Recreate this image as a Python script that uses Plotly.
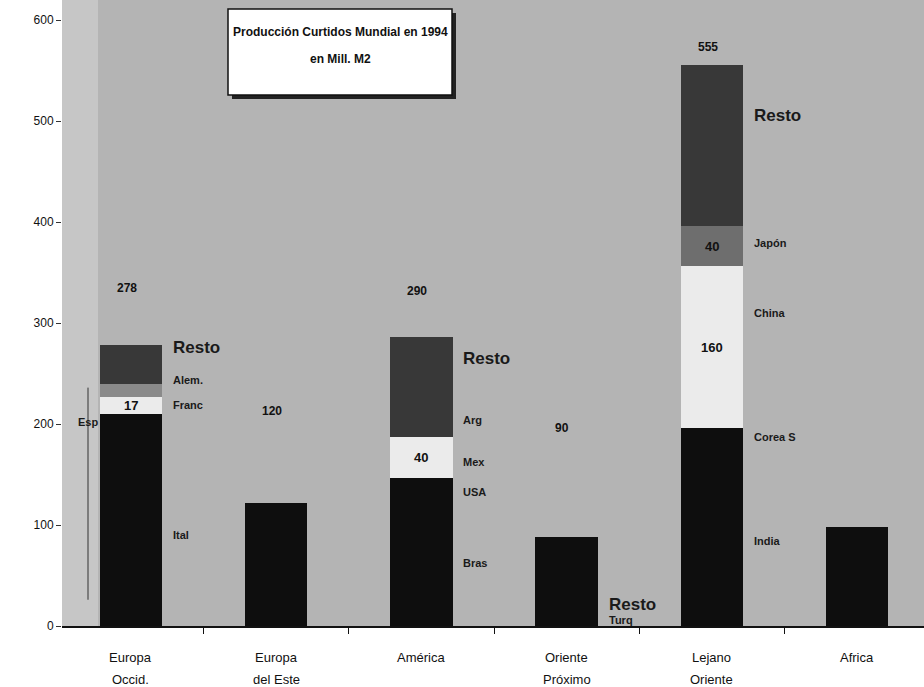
import plotly.graph_objects as go

# ---------------- data ----------------
categories = ["Europa<br>Occid.", "Europa<br>del Este", "América", "Oriente<br>Próximo", "Lejano<br>Oriente", "Africa"]

eu_occid_segments = ["Ital", "Esp", "Franc", "Alem.", "Resto"]
eu_occid_values = [178, 32, 17, 13, 38]
eu_este_segments = ["Total"]
eu_este_values = [122]
america_segments = ["Bras", "USA", "Mex", "Arg", "Resto"]
america_values = [115, 32, 40, 32, 67]
oriente_prox_segments = ["Turq", "Resto"]
oriente_prox_values = [45, 43]
lejano_segments = ["India", "Corea S", "China", "Japón", "Resto"]
lejano_values = [170, 26, 160, 40, 159]
africa_segments = ["Total"]
africa_values = [98]

total_labels = ["278", "120", "290", "90", "555", ""]
inner_value_segments = [(0, "Franc"), (2, "Mex"), (4, "China"), (4, "Japón")]
y_tick_values = [0, 100, 200, 300, 400, 500, 600]
title_lines = ["Producción Curtidos Mundial en 1994", "en Mill. M2"]

# ---------------- style ----------------
FONT = "Liberation Sans, Arial, sans-serif"
BLACK, WHITE, GRAY, DARK, LGRAY = "#0e0e0e", "#ebebeb", "#8a8a8a", "#383838", "#6e6e6e"
BG = "#b4b4b4"

segments = [eu_occid_segments, eu_este_segments, america_segments,
            oriente_prox_segments, lejano_segments, africa_segments]
values = [eu_occid_values, eu_este_values, america_values,
          oriente_prox_values, lejano_values, africa_values]
colors = [
    [BLACK, BLACK, WHITE, GRAY, DARK],
    [BLACK],
    [BLACK, BLACK, WHITE, DARK, DARK],
    [BLACK, BLACK],
    [BLACK, BLACK, WHITE, LGRAY, DARK],
    [BLACK],
]

# label placement (layout): (category index, segment) -> y position, size, side
side_label_pos = {
    (0, "Resto"): (276, 17, "r"), (0, "Alem."): (244, 11, "r"), (0, "Franc"): (219, 11, "r"),
    (0, "Ital"): (90, 11, "r"), (0, "Esp"): (202, 11, "l"),
    (2, "Resto"): (265, 17, "r"), (2, "Arg"): (204, 11, "r"), (2, "Mex"): (162, 11, "r"),
    (2, "USA"): (133, 11, "r"), (2, "Bras"): (62, 11, "r"),
    (3, "Resto"): (21, 17, "r"), (3, "Turq"): (6, 11, "r"),
    (4, "Resto"): (505, 17, "r"), (4, "Japón"): (379, 11, "r"), (4, "China"): (310, 11, "r"),
    (4, "Corea S"): (187, 11, "r"), (4, "India"): (84, 11, "r"),
}
total_label_y = [335, 213, 332, 196, 573, 0]

BAR_W = 0.43
X_RANGE = [-0.475, 5.46]
Y_MAX = 619.8

fig = go.Figure()
annotations = []
for i, (segs, vals, cols) in enumerate(zip(segments, values, colors)):
    base = 0
    for name, v, c in zip(segs, vals, cols):
        fig.add_trace(go.Bar(x=[i], y=[v], width=BAR_W, marker=dict(color=c, line=dict(width=0)),
                             name=name, showlegend=False, hoverinfo="skip"))
        if (i, name) in inner_value_segments:
            annotations.append(dict(x=i, y=base + v / 2, xref="x", yref="y", text=f"<b>{v}</b>",
                                    showarrow=False, font=dict(family=FONT, size=13, color="#111"),
                                    yanchor="middle", xanchor="center"))
        if (i, name) in side_label_pos:
            ly, sz, side = side_label_pos[(i, name)]
            if side == "r":
                annotations.append(dict(x=i + BAR_W / 2 + 0.06, y=ly, xref="x", yref="y",
                                        text=f"<b>{name}</b>", showarrow=False, xanchor="left",
                                        yanchor="middle", font=dict(family=FONT, size=sz, color="#1a1a1a")))
            else:
                annotations.append(dict(x=i - BAR_W / 2, y=ly, xref="x", yref="y",
                                        text=f"<b>{name}</b>", showarrow=False, xanchor="right",
                                        yanchor="middle", font=dict(family=FONT, size=sz, color="#1a1a1a")))
        base += v
    if total_labels[i]:
        annotations.append(dict(x=i - 0.03, y=total_label_y[i], xref="x", yref="y",
                                text=f"<b>{total_labels[i]}</b>", showarrow=False,
                                xanchor="center", yanchor="middle",
                                font=dict(family=FONT, size=12, color="#111")))

# category labels (two lines with wide spacing)
for i, cat in enumerate(categories):
    lines = cat.split("<br>")
    for k, line in enumerate(lines):
        annotations.append(dict(x=i, y=-0.05 - 0.035 * k, xref="x", yref="paper", text=line,
                                showarrow=False, yanchor="middle", xanchor="center",
                                font=dict(family=FONT, size=13, color="#111")))

# title box
PW, PH, L = 862, 626, 62
def px_x(p):
    return (p - L) / PW
def px_y(p):
    return (PH - p) / PH

shapes = [
    dict(type="rect", xref="paper", yref="paper", x0=px_x(62), x1=px_x(98), y0=0, y1=1,
         fillcolor="#d2d2d2", line=dict(width=0), layer="below", opacity=0.6),
    dict(type="line", xref="x", yref="y", x0=-0.296, x1=-0.296, y0=26, y1=236,
         line=dict(color="#333", width=1)),
    dict(type="rect", xref="paper", yref="paper", x0=px_x(232), x1=px_x(456),
         y0=px_y(99), y1=px_y(13), fillcolor="#222", line=dict(width=0)),
    dict(type="rect", xref="paper", yref="paper", x0=px_x(228), x1=px_x(452),
         y0=px_y(95), y1=px_y(9), fillcolor="white", line=dict(color="#111", width=1.5)),
]
annotations.append(dict(x=px_x(340), y=px_y(32), xref="paper", yref="paper", text=f"<b>{title_lines[0]}</b>",
                        showarrow=False, xanchor="center", yanchor="middle",
                        font=dict(family=FONT, size=12, color="#111")))
annotations.append(dict(x=px_x(340), y=px_y(59), xref="paper", yref="paper", text=f"<b>{title_lines[1]}</b>",
                        showarrow=False, xanchor="center", yanchor="middle",
                        font=dict(family=FONT, size=12, color="#111")))

fig.update_layout(
    width=924, height=687, barmode="stack",
    margin=dict(l=62, r=0, t=0, b=61, autoexpand=False),
    paper_bgcolor="white", plot_bgcolor=BG,
    annotations=annotations, shapes=shapes,
    xaxis=dict(range=X_RANGE, showticklabels=False, tickvals=[0.5, 1.5, 2.5, 3.5, 4.5],
               ticks="outside", ticklen=6, tickcolor="#111", showgrid=False, zeroline=False,
               showline=True, linecolor="#111", linewidth=1.5),
    yaxis=dict(range=[0, Y_MAX], tickvals=y_tick_values, ticks="outside", ticklen=5, tickcolor="#333",
               showgrid=False, zeroline=False, showline=False,
               tickfont=dict(family=FONT, size=12, color="#111")),
)

fig.write_html("out.html", config={"displayModeBar": False},
               post_script="document.body.style.margin='0';")
